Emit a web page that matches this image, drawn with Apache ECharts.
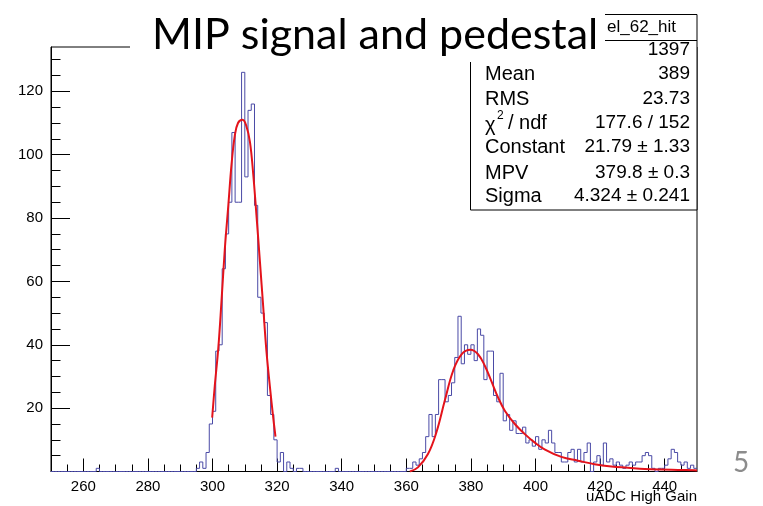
<!DOCTYPE html>
<html><head><meta charset="utf-8">
<script src="https://cdn.jsdelivr.net/npm/echarts@6/dist/echarts.min.js"></script>
<style>html,body{margin:0;padding:0;background:#fff;}#c{width:763px;height:506px;}</style>
</head><body><div id="c"></div>
<script>
// ---- axis ranges and ticks ----
const xMin = 250, xMax = 450, binWidth = 1;
const yMin = 0, yMax = 134;
const xMajorTicks = [260, 280, 300, 320, 340, 360, 380, 400, 420, 440];
const xMinorTicks = [255,260,265,270,275,280,285,290,295,300,305,310,315,320,325,330,335,340,345,350,355,360,365,370,375,380,385,390,395,400,405,410,415,420,425,430,435,440,445];
const yMajorTicks = [20, 40, 60, 80, 100, 120];
const yMinorTicks = [5,10,15,20,25,30,35,40,45,50,55,60,65,70,75,80,85,90,95,100,105,110,115,120,125,130];

// ---- histogram contents (bin width 1) ----
const strayBins   = [264, 338];
const strayCounts = [1, 1];
const pedestalStart  = 295;
const pedestalCounts = [1,3,1,6,15,19,38,40,64,75,85,107,85,85,126,93,114,116,84,55,50,47,24,18,10,3,6,0,3,1,0,1,1];
const signalStart  = 360;
const signalCounts = [
  1,1,3,2,4,6,11,18,11,18,
  29,29,22,24,28,36,49,34,40,37,
  40,35,45,43,29,38,38,24,22,31,
  16,18,13,16,12,12,14,9,10,8,
  11,7,10,9,13,9,6,6,3,3,
  6,7,3,7,3,6,9,0,3,5,
  2,9,3,4,2,3,2,1,2,3,
  2,3,3,5,6,5,1,0,1,1,
  2,4,7,6,3,2,3,1,2,1];

// ---- fit curves ----
const gausX = [299.9,300.7,301.8,302.8,303.8,304.9,305.9,306.9,307.9,309.3,310.5,311.6,312.6,313.6,314.7,315.7,316.7,317.8,318.8,319.5];
const gausY = [17,27,39,54,70,84,97,106,110,111,109,104,94,81,66,52,38,26.5,17,11];
const landauX = [361.1,363.6,366.7,369.3,371.9,374.5,377.1,379.9,382.2,384.3,386.3,388.4,390.5,393.6,396.7,399.7,402.8,408,413.2,418.3,423.5,428.6,433.8,438.9,444.1,449.2,450];
const landauY = [0,1.3,5.5,12.3,22.3,31.8,37,38.4,37,33.4,28.6,23.4,19.2,15,11.8,9.2,7,4.6,3.4,2.3,1.6,1.2,0.8,0.6,0.5,0.4,0.35];

// ---- stats box text ----
const statsName = 'el_62_hit';
const statsEntries = '1397';
const statsLabels = ['Mean', 'RMS', null, 'Constant', 'MPV', 'Sigma'];
const statsValues = ['389', '23.73', '177.6 / 152', '21.79 \u00b1 1.33', '379.8 \u00b1 0.3', '4.324 \u00b1 0.241'];

// build histogram step data
const nBins = Math.round((xMax - xMin) / binWidth);
const counts = new Array(nBins).fill(0);
strayBins.forEach((b, i) => { counts[b - xMin] = strayCounts[i]; });
pedestalCounts.forEach((c, i) => { counts[pedestalStart + i - xMin] = c; });
signalCounts.forEach((c, i) => { counts[signalStart + i - xMin] = c; });
const histData = counts.map((c, i) => [xMin + i * binWidth, c]);
histData.push([xMax, counts[nBins - 1]]);

const chart = echarts.init(document.getElementById('c'), null, {renderer: 'canvas'});
const font = 'Liberation Sans';
const axisCommon = {type: 'value', min: xMin, max: xMax, splitLine: {show: false}};
const rowY = [74, 99, 123, 147, 173, 196];
const graphics = [];
// stats box
graphics.push({type: 'rect', z: 50, shape: {x: 470.5, y: 14.5, width: 226.5, height: 195.5},
  style: {fill: '#fff', stroke: '#000', lineWidth: 1}});
graphics.push({type: 'line', z: 51, shape: {x1: 470.5, y1: 40.5, x2: 697, y2: 40.5},
  style: {stroke: '#000', lineWidth: 1}});
graphics.push({type: 'text', z: 52, x: 607, y: 27, style: {text: statsName, font: '17px ' + font, fill: '#000', textVerticalAlign: 'middle'}});
graphics.push({type: 'text', z: 52, x: 690, y: 50, style: {text: statsEntries, font: '19px ' + font, fill: '#000', textAlign: 'right', textVerticalAlign: 'middle'}});
statsLabels.forEach((l, i) => {
  if (l) graphics.push({type: 'text', z: 52, x: 485, y: rowY[i], style: {text: l, font: '20px ' + font, fill: '#000', textVerticalAlign: 'middle'}});
  graphics.push({type: 'text', z: 52, x: 690, y: rowY[i], style: {text: statsValues[i], font: '19px ' + font, fill: '#000', textAlign: 'right', textVerticalAlign: 'middle'}});
});
// chi2 / ndf label
graphics.push({type: 'text', z: 52, x: 485, y: 125, style: {text: '\u03c7', font: '20px ' + font, fill: '#000', textVerticalAlign: 'middle'}});
graphics.push({type: 'text', z: 52, x: 497, y: 116, style: {text: '2', font: '12px ' + font, fill: '#000', textVerticalAlign: 'middle'}});
graphics.push({type: 'text', z: 52, x: 508, y: rowY[2], style: {text: '/ ndf', font: '20px ' + font, fill: '#000', textVerticalAlign: 'middle'}});
// title box
graphics.push({type: 'rect', z: 60, shape: {x: 130, y: 0, width: 475, height: 62}, style: {fill: '#fff'}});
graphics.push({type: 'text', z: 61, x: 152, y: 35, style: {text: 'MIP signal and pedestal', font: '43px Lato', fill: '#000', textVerticalAlign: 'middle'}});
// x axis title
graphics.push({type: 'text', z: 52, x: 697, y: 497, style: {text: 'uADC High Gain', font: '15px ' + font, fill: '#000', textAlign: 'right', textVerticalAlign: 'middle'}});
// slide number
graphics.push({type: 'text', z: 52, x: 741, y: 463, style: {text: '5', font: '28px Lato', fill: '#8c8c8c', textAlign: 'center', textVerticalAlign: 'middle'}});

chart.setOption({
  animation: false,
  backgroundColor: '#fff',
  grid: {left: 51, top: 47, width: 646, height: 424.5, show: true, borderColor: '#000', borderWidth: 1, backgroundColor: 'transparent'},
  xAxis: [
    Object.assign({}, axisCommon, {
      position: 'bottom',
      axisLine: {show: true, onZero: false, lineStyle: {color: '#000', width: 1}},
      axisTick: {show: true, inside: true, length: 7, customValues: xMinorTicks, lineStyle: {color: '#000'}},
      axisLabel: {show: false}
    }),
    Object.assign({}, axisCommon, {
      position: 'bottom',
      axisLine: {show: false, onZero: false},
      axisTick: {show: true, inside: true, length: 13, customValues: xMajorTicks, lineStyle: {color: '#000'}},
      axisLabel: {show: true, customValues: xMajorTicks, margin: 8, fontFamily: font, fontSize: 15, color: '#000'}
    })
  ],
  yAxis: [
    {type: 'value', min: yMin, max: yMax, position: 'left', splitLine: {show: false},
      axisLine: {show: true, onZero: false, lineStyle: {color: '#000', width: 1}},
      axisTick: {show: true, inside: true, length: 19, customValues: yMajorTicks, lineStyle: {color: '#000'}},
      axisLabel: {show: true, customValues: yMajorTicks, margin: 8, fontFamily: font, fontSize: 15, color: '#000'}},
    {type: 'value', min: yMin, max: yMax, position: 'left', splitLine: {show: false},
      axisLine: {show: false, onZero: false},
      axisTick: {show: true, inside: true, length: 9.5, customValues: yMinorTicks, lineStyle: {color: '#000'}},
      axisLabel: {show: false}}
  ],
  series: [
    {type: 'line', xAxisIndex: 0, yAxisIndex: 0, step: 'end', data: histData, symbol: 'none', clip: false, z: 3,
      lineStyle: {color: '#4a4aa6', width: 1}},
    {type: 'line', xAxisIndex: 0, yAxisIndex: 0, data: gausX.map((x, i) => [x, gausY[i]]), smooth: 0.4, symbol: 'none', z: 4,
      lineStyle: {color: '#e4131b', width: 2}},
    {type: 'line', xAxisIndex: 0, yAxisIndex: 0, data: landauX.map((x, i) => [x, landauY[i]]), smooth: 0.4, symbol: 'none', z: 4,
      lineStyle: {color: '#e4131b', width: 2}}
  ],
  graphic: {elements: graphics}
});
</script></body></html>
